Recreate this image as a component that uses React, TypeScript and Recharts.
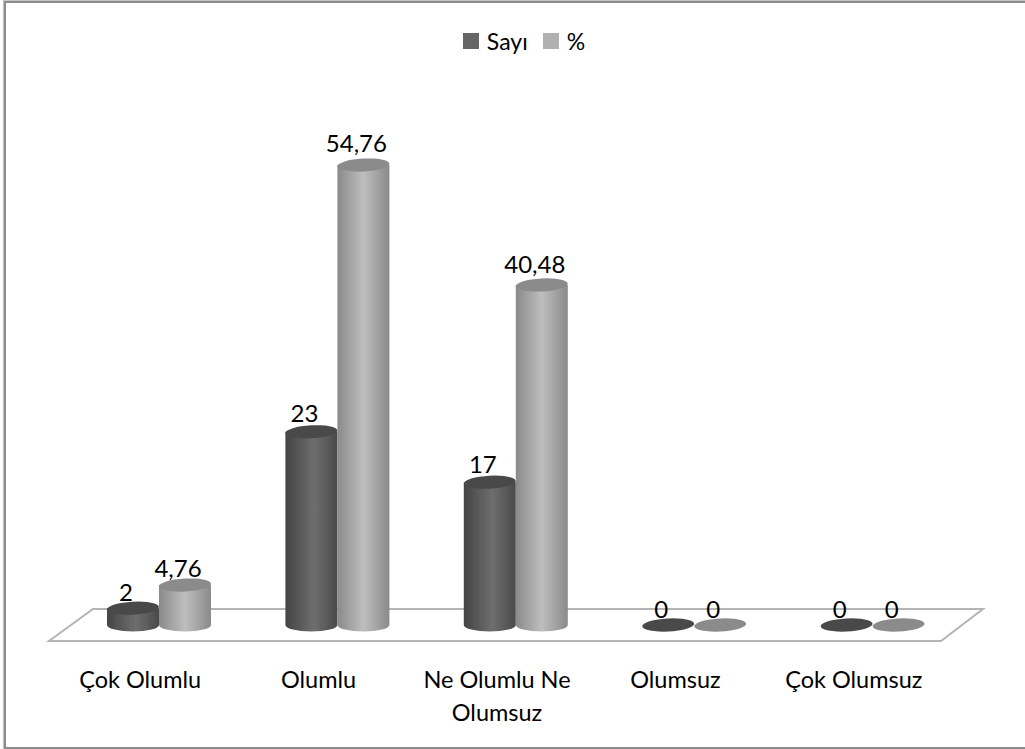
import React from 'react';
import { BarChart, Bar, XAxis, YAxis, Legend, LabelList, Customized } from 'recharts';

const categories = ['Çok Olumlu', 'Olumlu', 'Ne Olumlu Ne Olumsuz', 'Olumsuz', 'Çok Olumsuz'];
const sayi = [2, 23, 17, 0, 0];
const yuzde = [4.76, 54.76, 40.48, 0, 0];
const rows = categories.map((name, i) => ({ name, sayi: sayi[i], yuzde: yuzde[i] }));

const FONT = 'Lato, Carlito, sans-serif';
const RY = 6.5;

const cylinder = (gradId: string, cap: string) => (props: any) => {
  const { x, y, width, height } = props;
  const rx = width / 2;
  const cx = x + rx;
  const bottom = y + height;
  return (
    <g filter="url(#soft)">
      {height > 0 && (
        <path
          d={`M${x},${y} L${x},${bottom} A${rx},${RY} 0 0 0 ${x + width},${bottom} L${x + width},${y} Z`}
          fill={`url(#${gradId})`}
        />
      )}
      <ellipse cx={cx} cy={y} rx={rx} ry={RY} fill={cap} transform={`rotate(-3 ${cx} ${y})`} />
    </g>
  );
};

const Floor = () => (
  <g>
    <defs>
      <linearGradient id="gDark" x1="0" x2="1" y1="0" y2="0">
        <stop offset="0" stopColor="#444444" />
        <stop offset="0.55" stopColor="#6e6e6e" />
        <stop offset="1" stopColor="#4a4a4a" />
      </linearGradient>
      <linearGradient id="gLight" x1="0" x2="1" y1="0" y2="0">
        <stop offset="0" stopColor="#8a8a8a" />
        <stop offset="0.5" stopColor="#bebebe" />
        <stop offset="1" stopColor="#8a8a8a" />
      </linearGradient>
      <filter id="soft" x="-10%" y="-10%" width="120%" height="120%">
        <feGaussianBlur stdDeviation="0.5" />
      </filter>
    </defs>
    <polygon points="49,641 93,609 983,609 941,641" fill="#ffffff" stroke="#b4b4b4" strokeWidth={2} />
  </g>
);

const wrap = (s: string) => {
  const words = s.split(' ');
  const lines: string[] = [];
  let cur = '';
  for (const w of words) {
    const next = cur ? cur + ' ' + w : w;
    if (next.length > 14 && cur) {
      lines.push(cur);
      cur = w;
    } else cur = next;
  }
  if (cur) lines.push(cur);
  return lines;
};

const Tick = (props: any) => {
  const { x, payload } = props;
  return (
    <text x={x - 19} y={688} textAnchor="middle" fontFamily={FONT} fontSize={23.5} fill="#000">
      {wrap(payload.value).map((l, i) => (
        <tspan key={i} x={x - 19} dy={i === 0 ? 0 : 33}>{l}</tspan>
      ))}
    </text>
  );
};

const valueLabel = (props: any) => {
  const { x, y, width, height, value } = props;
  return (
    <text x={x + width / 2 - 7} y={y - 7 - height / 75} textAnchor="middle" fontFamily={FONT} fontSize={24} fill="#000">
      {String(value).replace('.', ',')}
    </text>
  );
};

const LegendBox = (props: any) => (
  <div style={{ display: 'flex', justifyContent: 'center', alignItems: 'center', fontFamily: FONT, fontSize: 23, color: '#000', height: 24 }}>
    {props.payload.map((p: any, i: number) => (
      <span key={i} style={{ display: 'inline-flex', alignItems: 'center', marginRight: i === 0 ? 15 : 0 }}>
        <span style={{ width: 16, height: 16, background: p.color, display: 'inline-block', marginRight: 8 }} />
        {p.value}
      </span>
    ))}
  </div>
);

export default function App() {
  return (
    <div style={{ position: 'absolute', left: 0, top: 0, width: 1025, height: 749, background: '#fff', overflow: 'hidden' }}>
      <div style={{ position: 'absolute', left: 4, top: 1, width: 1040, height: 744, border: '2px solid #8c8c8c', boxShadow: '0 0 1px 1px #c4c4c4' }} />
      <BarChart
        width={1025}
        height={749}
        data={rows}
        margin={{ top: 97, right: 63, bottom: 64, left: 70 }}
        barSize={52}
        barGap={0}
        style={{ position: 'absolute', left: 0, top: 0 }}
      >
        <Customized component={Floor} />
        <XAxis dataKey="name" axisLine={false} tickLine={false} tick={Tick} interval={0} height={60} />
        <YAxis hide domain={[0, 60]} width={0} />
        <Legend
          verticalAlign="top"
          itemSorter={null}
          content={LegendBox}
          wrapperStyle={{ position: 'absolute', top: 29, left: 0, width: 1048 }}
        />
        <Bar dataKey="sayi" name="Sayı" fill="#666666" isAnimationActive={false} shape={cylinder('gDark', '#4a4a4a')}>
          <LabelList dataKey="sayi" content={valueLabel} />
        </Bar>
        <Bar dataKey="yuzde" name="%" fill="#b0b0b0" isAnimationActive={false} shape={cylinder('gLight', '#8b8b8b')}>
          <LabelList dataKey="yuzde" content={valueLabel} />
        </Bar>
      </BarChart>
    </div>
  );
}
